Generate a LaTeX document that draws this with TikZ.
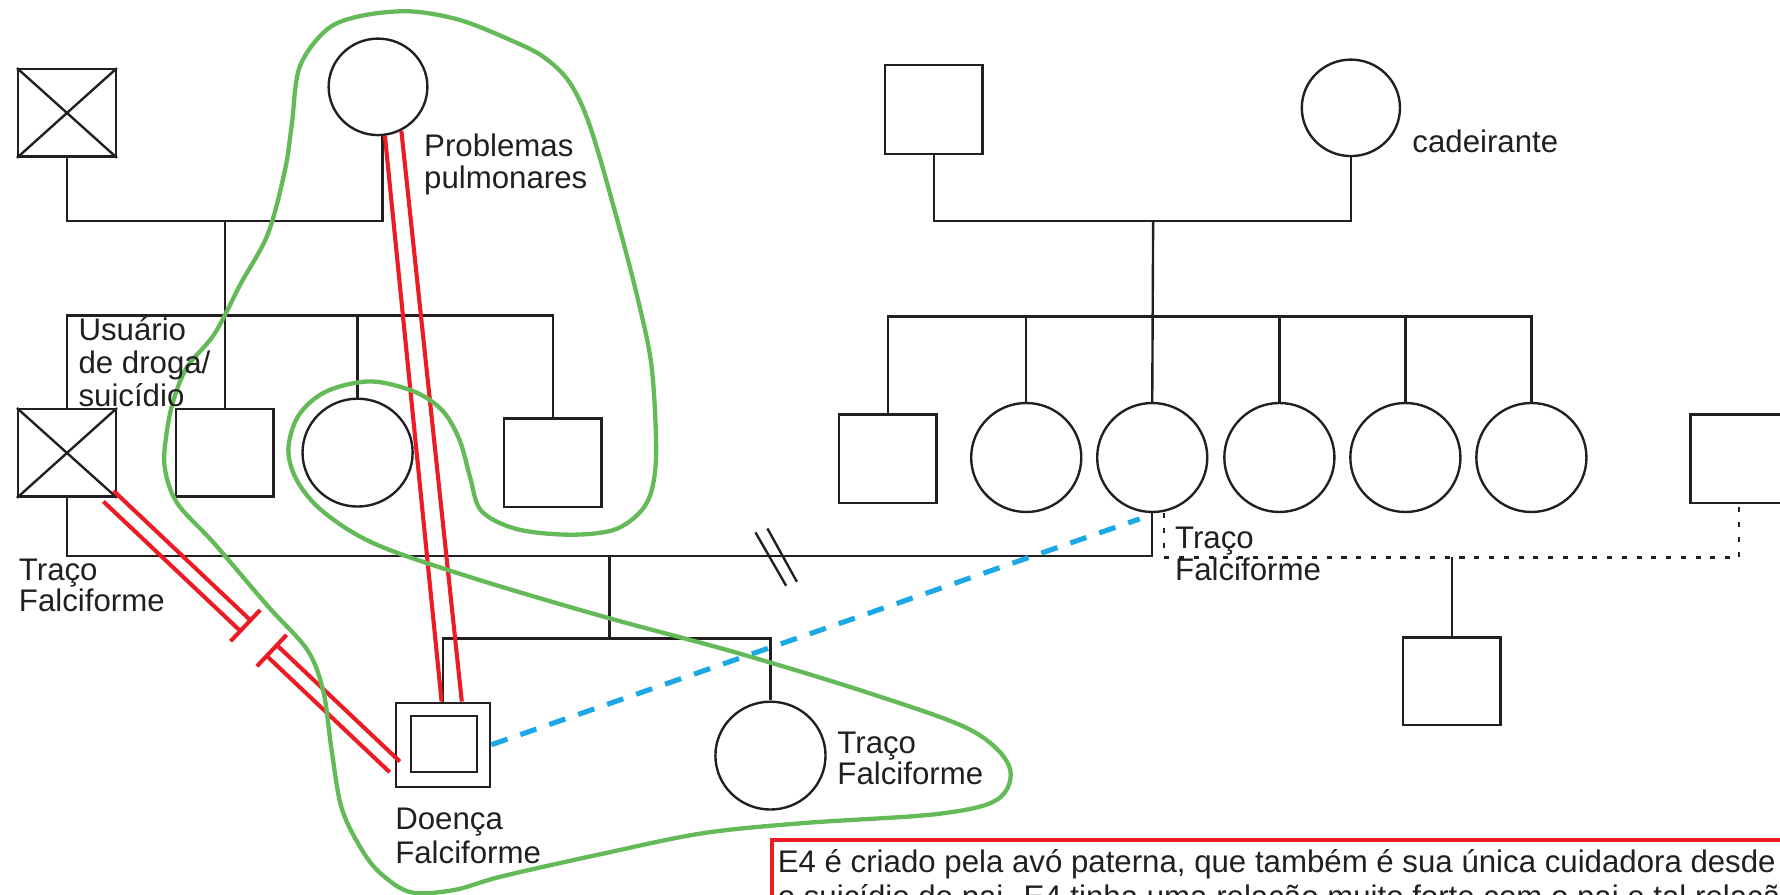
\documentclass[tikz,border=0pt]{standalone}
\usepackage{fontspec}
\setmainfont{Liberation Sans}
\usetikzlibrary{calc,shapes.geometric}
\definecolor{inkblack}{RGB}{35,31,32}
\definecolor{relred}{RGB}{237,28,36}
\definecolor{grpgreen}{RGB}{100,186,88}
\definecolor{linkblue}{RGB}{27,168,228}

\begin{document}
\begin{tikzpicture}[x=1pt,y=-1pt,
  kin/.style={draw=inkblack, line width=2.1pt},
  male/.style={rectangle, draw=inkblack, line width=2.1pt, inner sep=0pt,
               minimum width=86pt, minimum height=77pt},
  female/.style={ellipse, draw=inkblack, line width=2.1pt, inner sep=0pt,
                 minimum width=97pt, minimum height=95pt},
  elder/.style={female, minimum width=87pt, minimum height=85pt},
  tie/.style={draw=relred, line width=3.6pt},
  link/.style={draw=linkblue, line width=4.5pt, dash pattern=on 15pt off 12pt},
  union/.style={draw=inkblack, line width=2.1pt, dash pattern=on 4.5pt off 8.5pt},
  group/.style={draw=grpgreen, line width=3.8pt},
  lbl/.style={anchor=base west, inner sep=0pt, text=inkblack,
              font=\fontsize{27.5}{30}\selectfont}]

\clip (0,0) rectangle (1568,788);

% ---------- paternal side ----------
\node[male]  (pgf) at (59,99.5) {};
\draw[kin] (pgf.north west) -- (pgf.south east) (pgf.north east) -- (pgf.south west);
\node[elder] (pgm) at (333,76.5) {};
\coordinate (mL) at (198,194.5);
\coordinate (sL) at (198,278);
\draw[kin] (pgf.south) |- (mL) -| ($(pgm.south)+(4,0)$);

\node[male, minimum height=77pt] (fa) at (59,399) {};
\draw[kin] (fa.north west) -- (fa.south east) (fa.north east) -- (fa.south west);
\node[male]   (u2) at (198,399) {};
\node[female] (a3) at (315,398.7) {};
\node[male, minimum height=78pt] (u4) at (487,407.5) {};
\draw[kin] (fa.north) |- (u4.north |- sL) -- (u4.north);
\draw[kin] (mL) -- (u2.north);
\draw[kin] (a3.north) -- (a3.north |- sL);

% ---------- maternal side ----------
\node[male, minimum height=78pt] (mgf) at (822.5,96.5) {};
\node[elder, minimum width=86.5pt] (mgm) at (1190,95) {};
\coordinate (mR) at (1015.8,194.5);
\coordinate (sR) at (1015.8,278.8);
\draw[kin] (mgf.south) |- (mR) -| (mgm.south);

\node[male, minimum height=78pt] (ms1) at (782,404) {};
\node[female, minimum height=96pt] (ms2) at (904,403) {};
\node[female, minimum height=96pt] (mo)  at (1015,403) {};
\node[female, minimum height=96pt] (ms4) at (1127,403) {};
\node[female, minimum height=96pt] (ms5) at (1238,403) {};
\node[female, minimum height=96pt] (ms6) at (1349,403) {};
\draw[kin] (ms1.north) |- (ms6.north |- sR) -- (ms6.north);
\draw[kin] (mR) -- (mo.north);
\foreach \s in {ms2,ms4,ms5} \draw[kin] (\s.north) -- (\s.north |- sR);

\node[male, minimum height=78pt] (sp) at (1532,404) {};
\node[male] (hb) at (1278.8,600) {};
\coordinate (cD) at (1278.8,491);
\draw[union] ($(mo.south)+(10.6,0)$) |- (cD) -| (sp.south);
\draw[kin] (cD) -- (hb.north);

% ---------- parents and children ----------
\coordinate (cM) at (537,490);
\coordinate (cK) at (537,562.4);
\draw[kin] (fa.south) |- (cM) -| (mo.south);
\draw[kin] (665.5,469) -- (692.5,516);
\draw[kin] (676,465.5) -- (702,512.5);
\draw[kin] (cM) -- (cK);

\node[male, minimum width=83pt, minimum height=74pt] (pt) at (390.3,656) {};
\node[male, minimum width=58pt, minimum height=49pt] (ptin) at (391,655.4) {};
\node[female] (sis) at (678.7,665.6) {};
\draw[kin] (pt.north) |- (cK) -| (sis.north);

% ---------- relationships ----------
\draw[tie] (pgm.-82) -- ($(pt.north)+(-1.3,0)$);
\draw[tie] (pgm.-62) -- ($(pt.north)+(16.5,0)$);

\coordinate (fs) at ($(fa.south east)+(-7.5,-1.5)$);
\coordinate (pe) at ($(pt.west)+(0,19.5)$);
\coordinate (b1) at ($(fs)!166pt!(pe)$);
\coordinate (b2) at ($(fs)!198pt!(pe)$);
\draw[tie] ($(fs)!6.5pt!90:(pe)$) -- ($(b1)!6.5pt!90:(pe)$);
\draw[tie] ($(fs)!6.5pt!-90:(pe)$) -- ($(b1)!6.5pt!-90:(pe)$);
\draw[tie] ($(b1)!19pt!90:(pe)$) -- ($(b1)!19pt!-90:(pe)$);
\draw[tie] ($(b2)!19pt!90:(pe)$) -- ($(b2)!19pt!-90:(pe)$);
\draw[tie] ($(b2)!6.5pt!90:(pe)$) -- ($(pe)!6.5pt!-90:(fs)$);
\draw[tie] ($(b2)!6.5pt!-90:(pe)$) -- ($(pe)!6.5pt!90:(fs)$);

\draw[link] (pt.east) -- ($(mo.south)+(-11,5)$);

% ---------- household outline ----------
\draw[group] plot[smooth cycle, tension=0.55] coordinates {
  (361,10) (405,17.6) (449,35) (478.6,50) (502,73) (520,112) (543,191)
  (562,264) (574,323) (578,396) (574,432) (563,452) (540,467) (501,471)
  (455,466) (424,450) (414,420) (405,388) (390,362) (365,345) (326,336)
  (287,345) (263,366) (254,396) (262,424) (285,451) (330,479) (413,508)
  (531,543) (649,575) (767,611) (855,643) (889,675) (879,704) (826,717)
  (708,725) (619,734) (531,752) (442,772) (400,784) (362,786) (336,770)
  (319,749) (301,712) (292,660) (285,610) (271,573) (236,534) (189,479)
  (156,443) (145,411) (147,380) (153,352) (165,323) (189,294) (212,250)
  (236,206) (251,150) (257,110) (264,59) (288,26) (318,14)};

% ---------- labels ----------
\node[lbl] (t1a) at (373.5,138) {Problemas};
\node[lbl] (t1b) at (373.5,166) {pulmonares};
\node[lbl] (t2a) at (69,300) {Usuário};
\node[lbl] (t2b) at (69,329) {de droga/};
\node[lbl] (t2c) at (69,358) {suicídio};
\node[lbl] (t3)  at (1244,134) {cadeirante};
\node[lbl] (t4a) at (16.5,511) {Traço};
\node[lbl] (t4b) at (16.5,539) {Falciforme};
\node[lbl] (t5a) at (1035,483) {Traço};
\node[lbl] (t5b) at (1035,511) {Falciforme};
\node[lbl] (t6a) at (348,731) {Doença};
\node[lbl] (t6b) at (348,761) {Falciforme};
\node[lbl] (t7a) at (737.5,663.5) {Traço};
\node[lbl] (t7b) at (737.5,691) {Falciforme};

% ---------- note ----------
\node[draw=relred, line width=3.8pt, anchor=north west, inner sep=0pt,
      minimum width=1000pt, minimum height=120pt] (note) at (678,738) {};
\node[lbl] (n1) at (685,769) {E4 é criado pela avó paterna, que também é sua única cuidadora desde};
\node[lbl] (n2) at (685,799) {o suicídio do pai. E4 tinha uma relação muito forte com o pai e tal relação};
\end{tikzpicture}
\end{document}
